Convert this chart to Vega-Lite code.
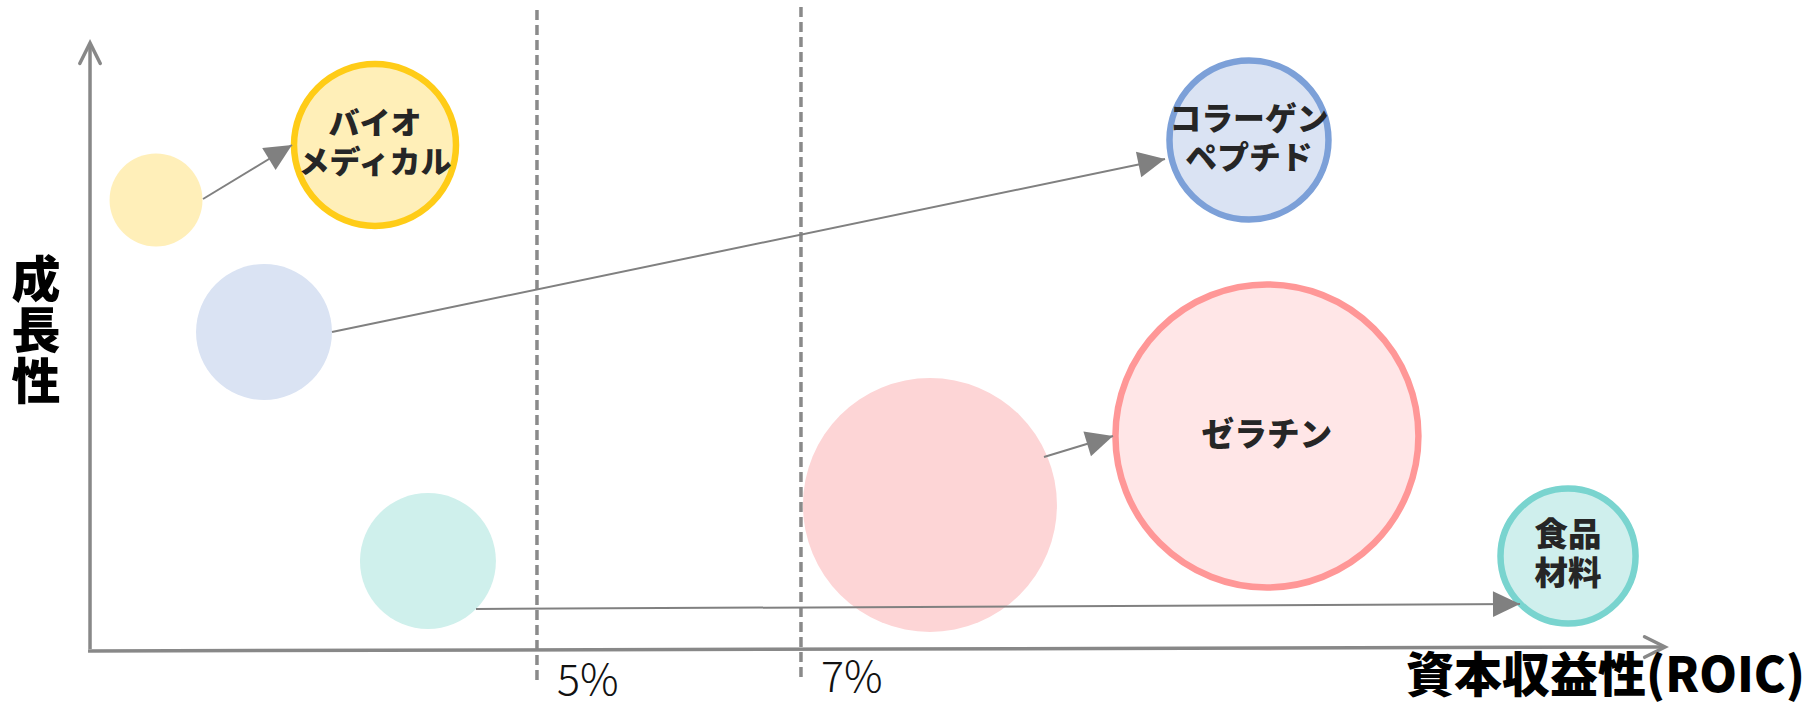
{
  "$schema": "https://vega.github.io/schema/vega-lite/v6.json",
  "width": 1808,
  "height": 702,
  "autosize": {"type": "none"},
  "padding": 0,
  "background": "white",
  "config": {"view": {"stroke": null}, "font": "Noto Sans CJK JP"},
  "datasets": {
    "bubbles": [
      {"事業": "バイオメディカル", "時点": "現在", "ROIC": 2.114, "成長性": 45.0, "規模": 21.6, "ラベル": ""},
      {"事業": "バイオメディカル", "時点": "将来", "ROIC": 3.773, "成長性": 50.5, "規模": 65.6, "ラベル": "バイオ\nメディカル"},
      {"事業": "コラーゲンペプチド", "時点": "現在", "ROIC": 2.932, "成長性": 31.8, "規模": 46.2, "ラベル": ""},
      {"事業": "コラーゲンペプチド", "時点": "将来", "ROIC": 10.394, "成長性": 51.0, "規模": 63.2, "ラベル": "コラーゲン\nペプチド"},
      {"事業": "ゼラチン", "時点": "現在", "ROIC": 7.977, "成長性": 14.5, "規模": 161.3, "ラベル": ""},
      {"事業": "ゼラチン", "時点": "将来", "ROIC": 10.53, "成長性": 21.4, "規模": 229.5, "ラベル": "ゼラチン"},
      {"事業": "食品材料", "時点": "現在", "ROIC": 4.174, "成長性": 8.9, "規模": 46.2, "ラベル": ""},
      {"事業": "食品材料", "時点": "将来", "ROIC": 12.811, "成長性": 9.4, "規模": 45.6, "ラベル": "食品\n材料"}
    ],
    "arrows": [
      {"事業": "バイオメディカル", "ROIC_前": 2.470, "成長性_前": 45.1, "ROIC_後": 3.144, "成長性_後": 50.5},
      {"事業": "コラーゲンペプチド", "ROIC_前": 3.447, "成長性_前": 31.8, "ROIC_後": 9.758, "成長性_後": 49.1},
      {"事業": "ゼラチン", "ROIC_前": 8.841, "成長性_前": 19.3, "ROIC_後": 9.364, "成長性_後": 21.4},
      {"事業": "食品材料", "ROIC_前": 4.538, "成長性_前": 4.1, "ROIC_後": 12.447, "成長性_後": 4.6}
    ],
    "axes": [
      {"軸": "成長性", "ROIC_前": 1.614, "成長性_前": 0.1, "ROIC_後": 1.614, "成長性_後": 60.7},
      {"軸": "資本収益性", "ROIC_前": 1.599, "成長性_前": -0.1, "ROIC_後": 13.546, "成長性_後": 0.3}
    ],
    "thresholds": [
      {"ROIC": 5, "上": 64.0, "下": -3.3, "ラベル": "5%"},
      {"ROIC": 7, "上": 64.3, "下": -3.0, "ラベル": "7%"}
    ],
    "titles": [
      {"軸": "x", "ROIC": 14.606, "成長性": -4.2, "ラベル": "資本収益性(ROIC)"},
      {"軸": "y", "ROIC": 1.205, "成長性": 36.8, "ラベル": "成\n長\n性"}
    ]
  },
  "layer": [
    {
      "data": {"name": "thresholds"},
      "mark": {"type": "rule", "strokeDash": [10, 5], "strokeWidth": 3.5, "color": "#8a8a8a"},
      "encoding": {
        "x": {"field": "ROIC", "type": "quantitative", "scale": {"domain": [0.932, 14.629], "nice": false, "zero": false}, "axis": null},
        "y": {"field": "上", "type": "quantitative", "scale": {"domain": [-5.2, 65], "nice": false, "zero": false}, "axis": null},
        "y2": {"field": "下"}
      }
    },
    {
      "data": {"name": "bubbles"},
      "transform": [{"filter": "datum['時点'] == '現在'"}],
      "mark": {"type": "circle", "opacity": 1},
      "encoding": {
        "x": {"field": "ROIC", "type": "quantitative", "scale": {"domain": [0.932, 14.629], "nice": false, "zero": false}, "axis": null},
        "y": {"field": "成長性", "type": "quantitative", "scale": {"domain": [-5.2, 65], "nice": false, "zero": false}, "axis": null},
        "size": {"field": "規模", "type": "quantitative", "scale": {"type": "linear", "domain": [0, 100], "range": [0, 40000], "zero": true}, "legend": null},
        "fill": {"field": "事業", "type": "nominal", "scale": {"domain": ["バイオメディカル", "コラーゲンペプチド", "ゼラチン", "食品材料"], "range": ["#FFEFB9", "#DAE3F3", "#FDD5D6", "#CFF0EC"]}, "legend": null}
      }
    },
    {
      "data": {"name": "bubbles"},
      "transform": [{"filter": "datum['時点'] == '将来'"}],
      "mark": {"type": "point", "shape": "circle", "filled": true, "opacity": 1, "strokeWidth": 6.5, "strokeOpacity": 1, "fillOpacity": 1},
      "encoding": {
        "x": {"field": "ROIC", "type": "quantitative", "scale": {"domain": [0.932, 14.629], "nice": false, "zero": false}, "axis": null},
        "y": {"field": "成長性", "type": "quantitative", "scale": {"domain": [-5.2, 65], "nice": false, "zero": false}, "axis": null},
        "size": {"field": "規模", "type": "quantitative", "scale": {"type": "linear", "domain": [0, 100], "range": [0, 40000], "zero": true}, "legend": null},
        "fill": {"field": "事業", "type": "nominal", "scale": {"domain": ["バイオメディカル", "コラーゲンペプチド", "ゼラチン", "食品材料"], "range": ["#FFEFB8", "#DAE3F3", "#FFE6E7", "#CFEFED"]}, "legend": null},
        "stroke": {"field": "事業", "type": "nominal", "scale": {"domain": ["バイオメディカル", "コラーゲンペプチド", "ゼラチン", "食品材料"], "range": ["#FFCC17", "#7CA0D8", "#FF9797", "#79D4CF"]}, "legend": null}
      }
    },
    {
      "data": {"name": "arrows"},
      "mark": {"type": "rule", "strokeWidth": 2, "color": "#808080"},
      "encoding": {
        "x": {"field": "ROIC_前", "type": "quantitative", "scale": {"domain": [0.932, 14.629], "nice": false, "zero": false}, "axis": null},
        "y": {"field": "成長性_前", "type": "quantitative", "scale": {"domain": [-5.2, 65], "nice": false, "zero": false}, "axis": null},
        "x2": {"field": "ROIC_後"},
        "y2": {"field": "成長性_後"}
      }
    },
    {
      "data": {"name": "arrows"},
      "transform": [{"calculate": "atan2((datum['ROIC_後'] - datum['ROIC_前']) * 132, (datum['成長性_後'] - datum['成長性_前']) * 10) * 180 / PI", "as": "向き"}],
      "mark": {"type": "point", "shape": "M0,0L0.96,2L-0.96,2Z", "filled": true, "size": 729, "color": "#808080", "opacity": 1, "strokeWidth": 0},
      "encoding": {
        "x": {"field": "ROIC_後", "type": "quantitative", "scale": {"domain": [0.932, 14.629], "nice": false, "zero": false}, "axis": null},
        "y": {"field": "成長性_後", "type": "quantitative", "scale": {"domain": [-5.2, 65], "nice": false, "zero": false}, "axis": null},
        "angle": {"field": "向き", "type": "quantitative", "scale": null}
      }
    },
    {
      "data": {"name": "axes"},
      "mark": {"type": "rule", "strokeWidth": 3.5, "color": "#888888"},
      "encoding": {
        "x": {"field": "ROIC_前", "type": "quantitative", "scale": {"domain": [0.932, 14.629], "nice": false, "zero": false}, "axis": null},
        "y": {"field": "成長性_前", "type": "quantitative", "scale": {"domain": [-5.2, 65], "nice": false, "zero": false}, "axis": null},
        "x2": {"field": "ROIC_後"},
        "y2": {"field": "成長性_後"}
      }
    },
    {
      "data": {"name": "axes"},
      "transform": [{"calculate": "atan2((datum['ROIC_後'] - datum['ROIC_前']) * 132, (datum['成長性_後'] - datum['成長性_前']) * 10) * 180 / PI", "as": "向き"}],
      "mark": {"type": "point", "shape": "M-1,2L0,0L1,2", "filled": false, "size": 420, "stroke": "#888888", "strokeWidth": 3.5, "opacity": 1, "strokeCap": "round"},
      "encoding": {
        "x": {"field": "ROIC_後", "type": "quantitative", "scale": {"domain": [0.932, 14.629], "nice": false, "zero": false}, "axis": null},
        "y": {"field": "成長性_後", "type": "quantitative", "scale": {"domain": [-5.2, 65], "nice": false, "zero": false}, "axis": null},
        "angle": {"field": "向き", "type": "quantitative", "scale": null}
      }
    },
    {
      "data": {"name": "bubbles"},
      "transform": [{"filter": "datum['ラベル'] != '' && indexof(datum['ラベル'], '\\n') >= 0"}],
      "mark": {"type": "text", "align": "center", "baseline": "middle", "lineBreak": "\n", "lineHeight": 39, "dy": -20, "fontWeight": 900, "color": "#262626", "font": "Noto Sans CJK JP"},
      "encoding": {
        "x": {"field": "ROIC", "type": "quantitative", "scale": {"domain": [0.932, 14.629], "nice": false, "zero": false}, "axis": null},
        "y": {"field": "成長性", "type": "quantitative", "scale": {"domain": [-5.2, 65], "nice": false, "zero": false}, "axis": null},
        "text": {"field": "ラベル"},
        "size": {"field": "事業", "type": "nominal", "scale": {"domain": ["バイオメディカル", "コラーゲンペプチド", "ゼラチン", "食品材料"], "range": [31, 33.5, 42, 37]}, "legend": null}
      }
    },
    {
      "data": {"name": "bubbles"},
      "transform": [{"filter": "datum['ラベル'] != '' && indexof(datum['ラベル'], '\\n') < 0"}],
      "mark": {"type": "text", "align": "center", "baseline": "middle", "fontWeight": 900, "color": "#262626", "font": "Noto Sans CJK JP"},
      "encoding": {
        "x": {"field": "ROIC", "type": "quantitative", "scale": {"domain": [0.932, 14.629], "nice": false, "zero": false}, "axis": null},
        "y": {"field": "成長性", "type": "quantitative", "scale": {"domain": [-5.2, 65], "nice": false, "zero": false}, "axis": null},
        "text": {"field": "ラベル"},
        "size": {"field": "事業", "type": "nominal", "scale": {"domain": ["バイオメディカル", "コラーゲンペプチド", "ゼラチン", "食品材料"], "range": [31, 33.5, 42, 37]}, "legend": null}
      }
    },
    {
      "data": {"name": "thresholds"},
      "mark": {"type": "text", "align": "left", "baseline": "alphabetic", "dx": 20, "dy": 12, "fontSize": 43, "fontWeight": 300, "color": "#111111", "font": "Noto Sans CJK JP"},
      "encoding": {
        "x": {"field": "ROIC", "type": "quantitative", "scale": {"domain": [0.932, 14.629], "nice": false, "zero": false}, "axis": null},
        "y": {"field": "下", "type": "quantitative", "scale": {"domain": [-5.2, 65], "nice": false, "zero": false}, "axis": null},
        "text": {"field": "ラベル"}
      }
    },
    {
      "data": {"name": "titles"},
      "transform": [{"filter": "datum['軸'] == 'x'"}],
      "mark": {"type": "text", "align": "right", "baseline": "alphabetic", "fontSize": 48, "fontWeight": 900, "color": "#000000", "font": "Noto Sans CJK JP"},
      "encoding": {
        "x": {"field": "ROIC", "type": "quantitative", "scale": {"domain": [0.932, 14.629], "nice": false, "zero": false}, "axis": null},
        "y": {"field": "成長性", "type": "quantitative", "scale": {"domain": [-5.2, 65], "nice": false, "zero": false}, "axis": null},
        "text": {"field": "ラベル"}
      }
    },
    {
      "data": {"name": "titles"},
      "transform": [{"filter": "datum['軸'] == 'y'"}],
      "mark": {"type": "text", "align": "center", "baseline": "middle", "lineBreak": "\n", "lineHeight": 51, "fontSize": 49, "fontWeight": 900, "color": "#000000", "font": "Noto Sans CJK JP"},
      "encoding": {
        "x": {"field": "ROIC", "type": "quantitative", "scale": {"domain": [0.932, 14.629], "nice": false, "zero": false}, "axis": null},
        "y": {"field": "成長性", "type": "quantitative", "scale": {"domain": [-5.2, 65], "nice": false, "zero": false}, "axis": null},
        "text": {"field": "ラベル"}
      }
    }
  ],
  "resolve": {"scale": {"fill": "independent", "stroke": "independent", "size": "independent"}}
}
